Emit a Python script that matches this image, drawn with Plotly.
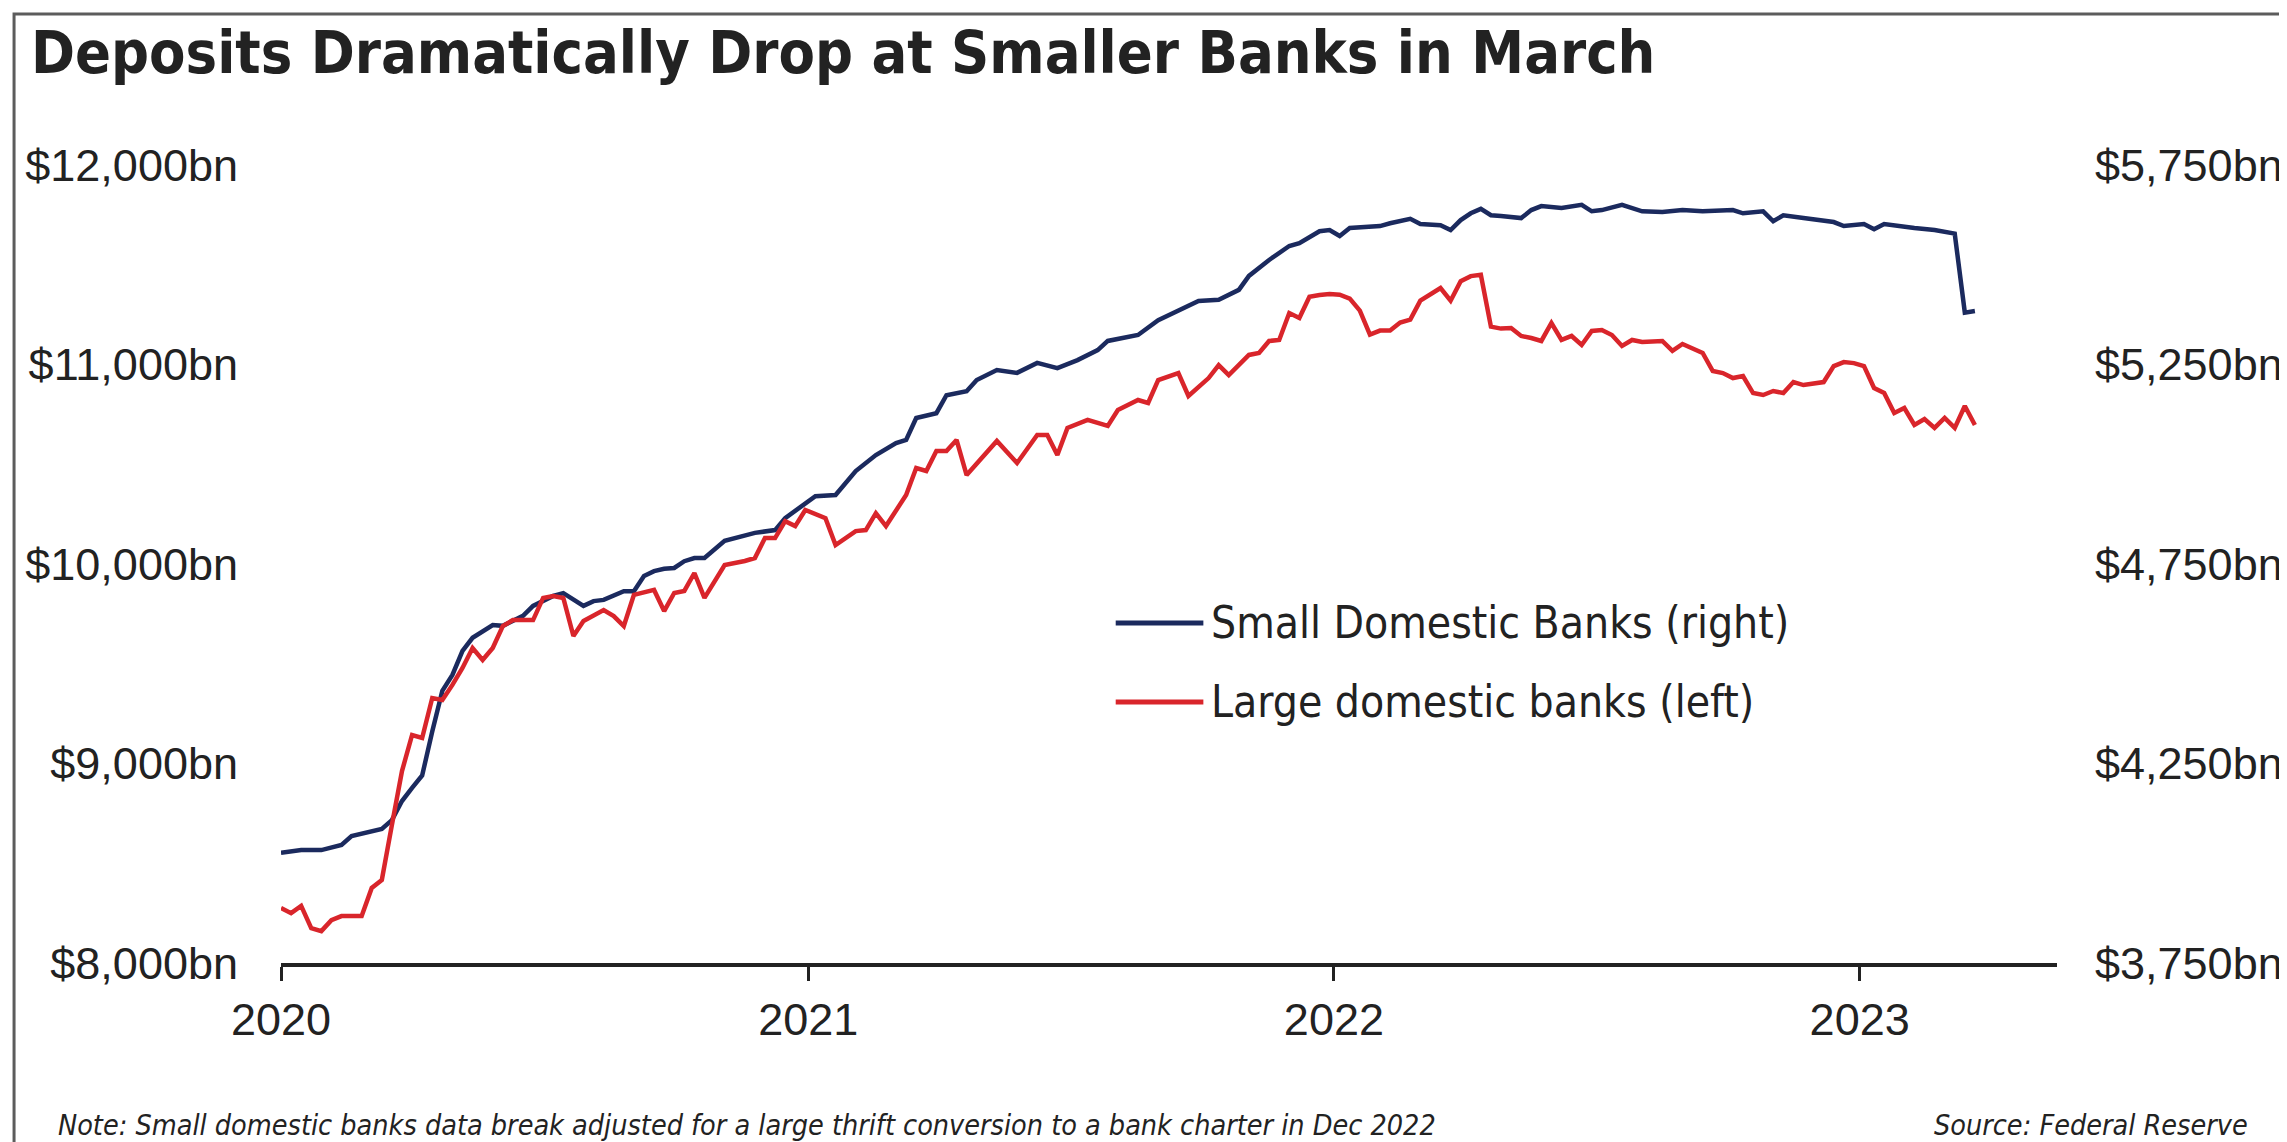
import pandas as pd
import plotly.graph_objects as go

# ---------------- data (weekly, weeks since 2020-01-01) ----------------
START = "2020-01-01"

large_weeks = [0,1,2,3,4,5,6,8,9,10,11,12,13,14,15,16,17,18,19,20,21,22,23,25,26,27,28,29,30,
               32,33,34,35,37,38,39,40,41,42,44,46,47,48,49,50,51,52,54,55,57,58,59,60,62,63,64,
               65,66,67,68,71,73,75,76,77,78,80,82,83,85,86,87,89,90,92,93,94,96,97,98,99,100,101,
               102,103,104,105,106,107,108,109,110,111,112,113,114,115,116,117,118,119,120,121,122,
               123,124,125,126,127,128,129,130,131,132,133,134,135,137,138,139,141,142,143,144,145,
               146,147,148,149,150,151,153,154,155,156,157,158,159,160,161,162,163,164,165,166,167,168]
large_vals = [8276,8250,8286,8175,8160,8215,8235,8235,8376,8416,8692,8962,9143,9128,9328,9318,9394,
              9479,9579,9519,9579,9689,9719,9719,9830,9840,9830,9639,9714,
              9769,9739,9689,9845,9870,9764,9855,9865,9955,9830,9995,10015,10030,10130,10130,10215,
              10190,10271,10230,10095,10165,10170,10255,10190,10346,10481,10466,
              10566,10566,10622,10446,10617,10506,10647,10647,10546,10682,10722,10692,10772,10822,
              10807,10922,10957,10842,10932,10997,10947,11048,11058,11118,11123,11258,11233,
              11340,11348,11353,11350,11330,11270,11150,11170,11170,11210,11225,11320,11350,11383,
              11320,11418,11443,11450,11190,11180,11183,
              11143,11133,11118,11208,11123,11143,11098,11168,11173,11148,11093,11123,11113,11118,
              11068,11103,11058,10967,10957,10932,10942,
              10857,10847,10867,10857,10912,10897,10912,10992,11012,11007,10992,10882,10857,10757,
              10782,10697,10727,10682,10732,10682,10792,10697]

small_weeks = [0,2,4,6,7,9,10,11,12,13,14,15,16,17,18,19,20,21,22,23,24,25,26,27,28,29,30,31,32,
               34,35,36,37,38,39,40,41,42,44,47,49,50,51,53,55,57,59,61,62,63,65,66,68,69,71,73,75,
               77,79,81,82,85,87,89,91,93,95,96,98,100,101,103,104,105,106,109,110,112,113,115,116,
               117,118,119,120,121,123,124,125,127,129,130,131,133,134,135,137,139,141,144,145,147,
               148,149,151,154,155,157,158,159,162,164,166,167,168]
small_vals = [4026,4033,4033,4046,4068,4081,4086,4108,4156,4189,4220,4330,4432,4472,4532,4565,4582,
              4597,4595,4607,4620,4645,4657,4670,4677,4660,4645,4657,4660,
              4682,4682,4720,4732,4738,4740,4757,4765,4765,4808,4828,4835,4865,4883,4920,4923,4983,
              5023,5053,5061,5116,5128,5173,5183,5211,5236,5229,5254,
              5241,5261,5286,5309,5324,5361,5386,5409,5412,5437,5472,5512,5547,5554,5584,5587,5572,
              5592,5597,5604,5615,5602,5599,5587,
              5612,5629,5640,5624,5622,5617,5637,5647,5642,5650,5634,5637,5650,5642,5634,5632,5637,
              5634,5637,5629,5634,
              5609,5624,5617,5607,5597,5602,5589,5602,5592,5587,5578,5380,5384]

year_ticks = ["2020-01-01", "2021-01-01", "2022-01-01", "2023-01-01"]
year_labels = ["2020", "2021", "2022", "2023"]
left_ticks = [8000, 9000, 10000, 11000, 12000]
left_labels = ["$8,000bn", "$9,000bn", "$10,000bn", "$11,000bn", "$12,000bn"]
right_ticks = [3750, 4250, 4750, 5250, 5750]
right_labels = ["$3,750bn", "$4,250bn", "$4,750bn", "$5,250bn", "$5,750bn"]

NAME_SMALL = "Small Domestic Banks (right)"
NAME_LARGE = "Large domestic banks (left)"
TITLE = "Deposits Dramatically Drop at Smaller Banks in March"
NOTE = "Note: Small domestic banks data break adjusted for a large thrift conversion to a bank charter in Dec 2022"
SOURCE = "Source: Federal Reserve"

# ---------------- styling ----------------
NAVY = "#1b2a5e"
RED = "#d9252b"
INK = "#222222"
W, H = 2287, 1142
ML, MR, MT, MB = 273, 231, 157, 187
PW, PH = W - ML - MR, H - MT - MB
NARROW = "DejaVu Sans Condensed, Liberation Sans Narrow, sans-serif"
ARIAL = "Liberation Sans, Arial, sans-serif"


def px_x(p):
    return (p - ML) / PW


def px_y(p):
    return (H - MB - p) / PH


start = pd.Timestamp(START)
large_dates = [start + pd.Timedelta(days=7 * w) for w in large_weeks]
small_dates = [start + pd.Timedelta(days=7 * w) for w in small_weeks]

fig = go.Figure()
fig.add_trace(go.Scatter(x=small_dates, y=small_vals, mode="lines", name=NAME_SMALL,
                         line=dict(color=NAVY, width=4.5), yaxis="y"))
fig.add_trace(go.Scatter(x=large_dates, y=large_vals, mode="lines", name=NAME_LARGE,
                         line=dict(color=RED, width=4.5), yaxis="y2"))

fig.update_layout(
    width=W, height=H,
    margin=dict(l=ML, r=MR, t=MT, b=MB),
    paper_bgcolor="white", plot_bgcolor="white",
    showlegend=False,
    xaxis=dict(type="date", range=["2020-01-01", "2023-05-18"],
               tickvals=year_ticks, ticktext=year_labels,
               ticks="outside", ticklen=14, tickwidth=3, tickcolor=INK,
               showline=True, linewidth=4, linecolor=INK,
               showgrid=False, zeroline=False,
               tickfont=dict(family=ARIAL, size=45, color=INK)),
    yaxis=dict(side="right", range=[3750, 5750], tickvals=right_ticks, ticktext=right_labels,
               showgrid=False, zeroline=False, showline=False, ticks="",
               ticklabelstandoff=37,
               tickfont=dict(family=ARIAL, size=45, color=INK)),
    yaxis2=dict(side="left", overlaying="y", range=[8000, 12000], tickvals=left_ticks,
                ticktext=left_labels, showgrid=False, zeroline=False, showline=False, ticks="",
                ticklabelstandoff=42,
                tickfont=dict(family=ARIAL, size=45, color=INK)),
)

shapes = [
    dict(type="rect", xref="paper", yref="paper", x0=px_x(5), x1=px_x(2281), y0=px_y(1160), y1=px_y(6),
         line=dict(color="#5c5c5c", width=3), fillcolor="rgba(0,0,0,0)"),
    dict(type="line", xref="paper", yref="paper", x0=px_x(1111), x1=px_x(1199), y0=px_y(615), y1=px_y(615),
         line=dict(color=NAVY, width=5)),
    dict(type="line", xref="paper", yref="paper", x0=px_x(1111), x1=px_x(1199), y0=px_y(694), y1=px_y(694),
         line=dict(color=RED, width=5)),
]

annotations = [
    dict(text="<b>" + TITLE + "</b>", xref="paper", yref="paper", x=px_x(20), y=px_y(44),
         xanchor="left", yanchor="middle", showarrow=False,
         font=dict(family=NARROW, size=59, color=INK)),
    dict(text=NAME_SMALL, xref="paper", yref="paper", x=px_x(1205), y=px_y(614),
         xanchor="left", yanchor="middle", showarrow=False,
         font=dict(family=NARROW, size=44, color=INK)),
    dict(text=NAME_LARGE, xref="paper", yref="paper", x=px_x(1205), y=px_y(693),
         xanchor="left", yanchor="middle", showarrow=False,
         font=dict(family=NARROW, size=44, color=INK)),
    dict(text="<i>" + NOTE + "</i>", xref="paper", yref="paper", x=px_x(47), y=px_y(1117),
         xanchor="left", yanchor="middle", showarrow=False,
         font=dict(family=NARROW, size=28.5, color=INK)),
    dict(text="<i>" + SOURCE + "</i>", xref="paper", yref="paper", x=px_x(2250), y=px_y(1117),
         xanchor="right", yanchor="middle", showarrow=False,
         font=dict(family=NARROW, size=28.5, color=INK)),
]

fig.update_layout(shapes=shapes, annotations=annotations)
fig.write_html("out.html")
